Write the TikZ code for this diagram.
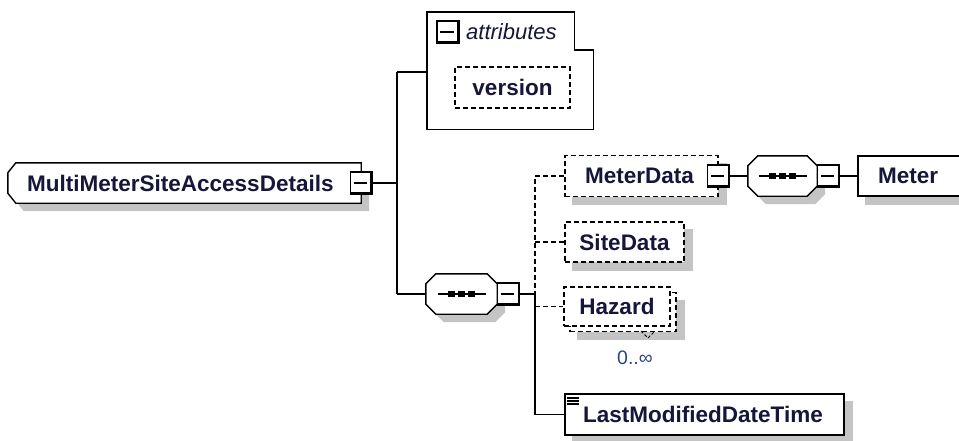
\documentclass[tikz,border=0pt]{standalone}
\usepackage{fontspec}
\setmainfont{Liberation Sans}
\usetikzlibrary{calc,backgrounds}
\definecolor{ink}{HTML}{16163A}
\definecolor{shadowgray}{HTML}{C4C4C4}
\definecolor{multblue}{HTML}{2A4688}
\tikzset{
  lw/.style={line width=1.4pt},
  outline/.style={lw, draw=black, fill=white},
  frame/.style={lw, draw=black, fill=white, rectangle, inner sep=0pt},
  dframe/.style={frame, dash pattern=on 5pt off 3pt},
  ghost/.style={rectangle, inner sep=0pt, draw=none},
  lbl/.style={font=\bfseries\fontsize{22.5}{27}\selectfont, text=ink, inner sep=0pt},
  conn/.style={lw, draw=black},
  dconn/.style={conn, dash pattern=on 5pt off 3pt},
  minusbox/.style={rectangle, draw=black, fill=white, line width=1.2pt, minimum size=22pt, inner sep=0pt},
  shadowfill/.style={fill=shadowgray, draw=none},
}
\newcommand\mdeco[1]{%
  \draw[line width=2.8pt] ([shift={(-1.4pt,-0.7pt)}]#1.north east) -- ([shift={(-1.4pt,1.4pt)}]#1.south east) -- ([shift={(0.7pt,1.4pt)}]#1.south west);
  \draw[line width=1.3pt] ([xshift=4pt]#1.west) -- ([xshift=-6pt]#1.east);
}
\newcommand\boxshadow[1]{%
  \begin{pgfonlayer}{background}
  \fill[shadowfill] ([shift={(8pt,-8pt)}]#1.north west) rectangle ([shift={(8pt,-8pt)}]#1.south east);
  \end{pgfonlayer}
}
\newcommand\seqshape[1]{%
  \begin{pgfonlayer}{background}
  \fill[shadowfill, transform canvas={shift={(8pt,-8pt)}}]
    ([xshift=10pt]#1.north west) -- ([xshift=-10pt]#1.north east) -- ([yshift=-10pt]#1.north east)
    -- ([yshift=10pt]#1.south east) -- ([xshift=-10pt]#1.south east) -- ([xshift=10pt]#1.south west)
    -- ([yshift=10pt]#1.south west) -- ([yshift=-10pt]#1.north west) -- cycle;
  \end{pgfonlayer}
  \draw[outline]
    ([xshift=10pt]#1.north west) -- ([xshift=-10pt]#1.north east) -- ([yshift=-10pt]#1.north east)
    -- ([yshift=10pt]#1.south east) -- ([xshift=-10pt]#1.south east) -- ([xshift=10pt]#1.south west)
    -- ([yshift=10pt]#1.south west) -- ([yshift=-10pt]#1.north west) -- cycle;
  \draw[line width=1.3pt] ([xshift=-24pt]#1.center) -- ([xshift=24pt]#1.center);
  \foreach \d in {-10,0,10} \fill ([xshift=\d pt]#1.center) +(-3.2pt,-3.2pt) rectangle +(3.2pt,3.2pt);
}
\begin{document}
\begin{tikzpicture}[x=1pt,y=-1pt]
\useasboundingbox (0,0) rectangle (959,440);
\clip (0,0) rectangle (959,440);

% ---------- root element ----------
\node[ghost, minimum width=353pt, minimum height=40pt] (root) at (184.5,183) {};
\begin{pgfonlayer}{background}
\fill[shadowfill, transform canvas={shift={(8pt,-8pt)}}]
  ([xshift=8pt]root.north west) -- (root.north east) -- (root.south east) -- ([xshift=8pt]root.south west)
  -- ([yshift=10pt]root.south west) -- ([yshift=-10pt]root.north west) -- cycle;
\end{pgfonlayer}
\draw[outline]
  ([xshift=8pt]root.north west) -- (root.north east) -- (root.south east) -- ([xshift=8pt]root.south west)
  -- ([yshift=10pt]root.south west) -- ([yshift=-10pt]root.north west) -- cycle;
\node[lbl, anchor=west] (rootT) at (27,183) {MultiMeterSiteAccessDetails};
\node[minusbox] (rootm) at (root.east) {};
\mdeco{rootm}

% ---------- attributes ----------
\node[ghost, minimum width=166pt, minimum height=117pt] (attr) at (510,70.5) {};
\draw[outline] (attr.north west) -- ([xshift=-19pt]attr.north east) -- ([shift={(-19pt,-38pt)}]attr.north east)
  -- ([yshift=-38pt]attr.north east) -- (attr.south east) -- (attr.south west) -- cycle;
\node[minusbox] (attrm) at (448,32) {};
\mdeco{attrm}
\node[font=\itshape\fontsize{22}{26}\selectfont, text=ink, inner sep=0pt, anchor=west] (attrT) at (466,32) {attributes};
\node[dframe, lbl, minimum width=115pt, minimum height=41pt] (version) at (512.5,87.5) {version};
\boxshadow{version}

% ---------- first sequence ----------
\node[ghost, minimum width=71pt, minimum height=40pt] (seq1) at (461.5,294) {};
\seqshape{seq1}
\node[minusbox, anchor=west] (seq1m) at (seq1.east) {};
\mdeco{seq1m}

% connectors from root
\coordinate (j1) at (397,183);
\draw[conn] (rootm.east) -- (j1);
\draw[conn] ([yshift=-1.5pt]attr.west -| j1) -- (seq1.west -| j1);
\draw[conn] ([yshift=-1.5pt]attr.west -| j1) -- ([yshift=-1.5pt]attr.west);
\draw[conn] (seq1.west -| j1) -- (seq1.west);

% ---------- children of sequence ----------
\node[dframe, minimum width=153pt, minimum height=41pt] (md) at (641.5,176) {};
\boxshadow{md}
\node[lbl, anchor=west] (mdT) at (585,176) {MeterData};
\node[minusbox] (mdm) at (md.east) {};
\mdeco{mdm}

\node[ghost, minimum width=69pt, minimum height=40pt] (seq2) at (782.5,176) {};
\seqshape{seq2}
\node[minusbox, anchor=west] (seq2m) at (seq2.east) {};
\mdeco{seq2m}

\node[frame, minimum width=110pt, minimum height=40pt] (meter) at (913,176) {};
\boxshadow{meter}
\node[lbl, anchor=west] (meterT) at (878,176) {Meter};

\node[dframe, lbl, minimum width=119pt, minimum height=40pt] (sd) at (624.5,242) {SiteData};
\boxshadow{sd}

\node[dframe, minimum width=106pt, minimum height=39pt] (hzb) at (623,312) {};
\boxshadow{hzb}
\node[dframe, lbl, minimum width=106pt, minimum height=39pt] (hz) at (617,306.5) {Hazard};
\draw[line width=1pt, dash pattern=on 3pt off 2pt] (641,331) -- (648,338) -- (654,332);
\node[font=\fontsize{19.5}{22}\selectfont, text=multblue, inner sep=0pt] (hzm) at (635,358) {0..∞};

\node[frame, minimum width=279pt, minimum height=41pt] (lm) at (704.5,414.5) {};
\boxshadow{lm}
\node[lbl, anchor=west] (lmT) at (583,414.5) {LastModifiedDateTime};
\foreach \yy in {16.5,13.5,10.5}
  \draw[line width=1.2pt] ([shift={(3pt,\yy pt)}]lm.west) -- ++(12pt,0);

% connectors of sequence children
\coordinate (j2) at (535,294);
\draw[conn] (seq1m.east) -- (j2);
\draw[dconn] (md.west) -- (md.west -| j2) -- (j2);
\draw[dconn] (sd.west -| j2) -- (sd.west);
\draw[dconn] (hz.west -| j2) -- (hz.west);
\draw[conn] (j2) -- (lm.west -| j2) -- (lm.west);
\draw[conn] (mdm.east) -- (seq2.west);
\draw[conn] (seq2m.east) -- (meter.west);
\end{tikzpicture}
\end{document}
